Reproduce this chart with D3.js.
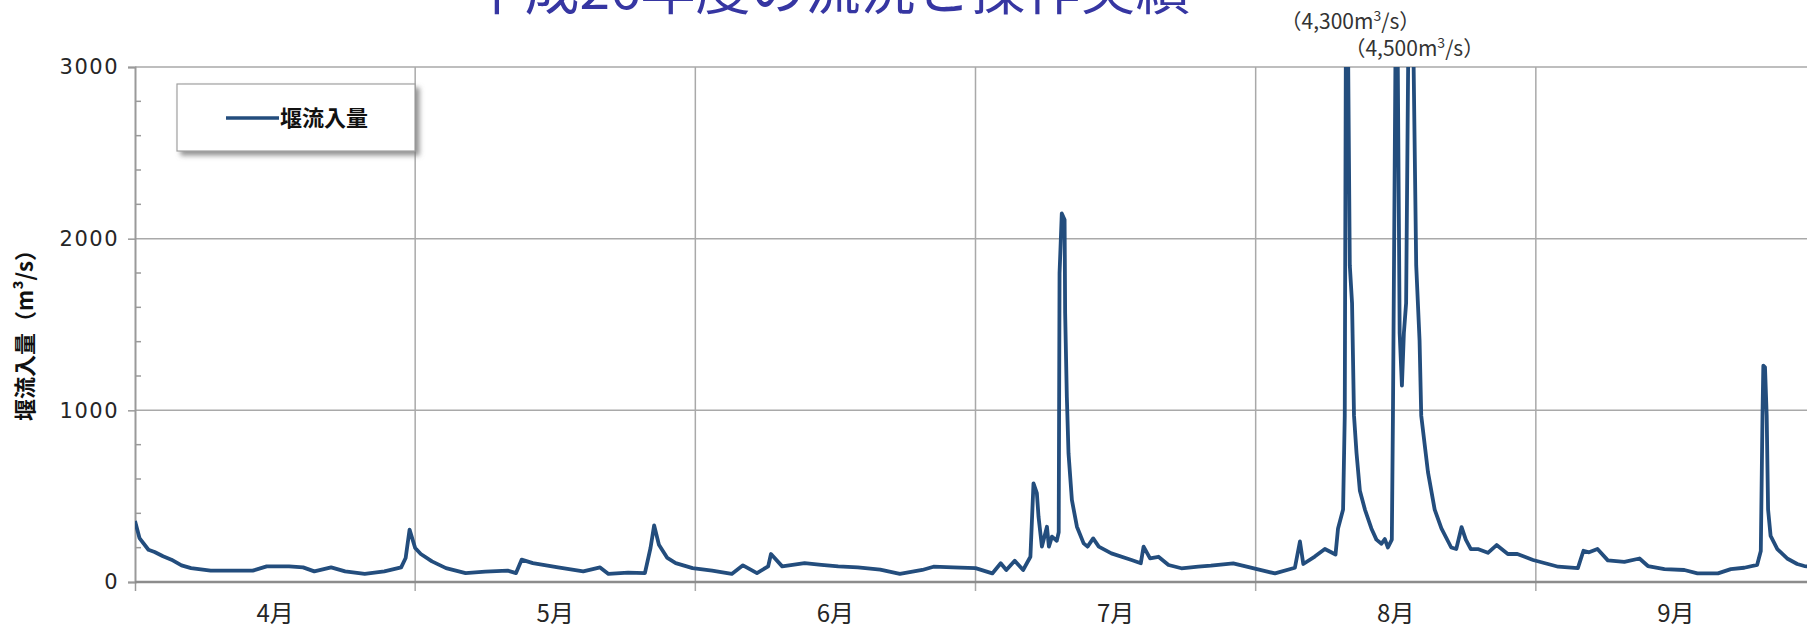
<!DOCTYPE html>
<html><head><meta charset="utf-8">
<script src="https://cdn.jsdelivr.net/npm/d3@7/dist/d3.min.js"></script>
<style>
html,body{margin:0;padding:0;background:#fff;overflow:hidden;}
svg{display:block;}
</style></head>
<body>
<script>
// ---- data ----
const titleText = "平成26年度の流況と操作実績";
const monthLabels = ["4月","5月","6月","7月","8月","9月"];
const yMajorTicks = [0, 1000, 2000, 3000];
const yMinorTicks = [200,400,600,800,1200,1400,1600,1800,2200,2400,2600,2800];
const seriesName = "堰流入量";
const yAxisTitle = "堰流入量（m³/s）";
// position in months since 1 April, and inflow (m3/s)
const monthPos = [
 0.000,0.016,0.048,0.070,0.100,0.130,0.166,0.200,0.270,0.330,0.420,0.470,0.550,0.600,0.640,0.700,0.750,0.820,0.890,0.950,0.966,0.980,1.000,1.020,1.060,1.110,1.180,1.250,1.330,1.360,1.380,1.420,1.510,1.600,1.660,1.690,1.760,1.820,1.840,1.853,1.870,1.900,1.930,1.990,2.060,2.130,2.170,2.220,2.260,2.270,2.310,2.390,2.450,2.510,2.580,2.660,2.730,2.810,2.850,2.920,3.000,3.060,3.090,3.110,3.140,3.170,3.196,3.207,3.219,3.225,3.237,3.255,3.262,3.273,3.290,3.297,3.300,3.308,3.318,3.320,3.326,3.332,3.344,3.362,3.386,3.400,3.420,3.440,3.485,3.557,3.590,3.600,3.623,3.653,3.689,3.735,3.795,3.840,3.920,3.990,4.069,4.140,4.158,4.170,4.211,4.247,4.285,4.294,4.312,4.318,4.324,4.336,4.344,4.351,4.360,4.372,4.390,4.413,4.431,4.449,4.461,4.472,4.486,4.490,4.503,4.514,4.522,4.529,4.537,4.552,4.573,4.585,4.591,4.615,4.639,4.663,4.698,4.716,4.735,4.750,4.768,4.793,4.829,4.860,4.900,4.934,4.990,5.080,5.150,5.170,5.190,5.220,5.257,5.316,5.370,5.400,5.459,5.530,5.577,5.650,5.696,5.744,5.790,5.803,5.809,5.812,5.818,5.824,5.829,5.838,5.862,5.897,5.933,5.958,6.000
];
const flow = [
 356,256,188,175,150,130,97,81,66,66,66,91,91,85,62,85,62,47,62,85,140,305,198,163,120,81,52,60,66,52,130,110,85,62,85,47,55,52,198,330,217,140,110,81,66,47,97,52,91,163,91,110,100,91,85,72,47,70,89,85,81,50,109,70,124,70,147,575,518,380,206,322,206,264,240,290,1798,2147,2110,1565,1079,750,478,322,225,206,254,206,167,128,109,206,138,147,99,80,89,95,109,81,50,83,236,105,148,192,160,312,422,969,4300,1844,1625,969,751,531,422,312,247,223,250,201,247,969,4000,1450,1144,1450,1625,4500,1844,1406,969,640,422,312,201,192,320,247,192,192,170,215,163,163,128,89,81,182,173,192,126,117,137,93,75,70,50,50,75,83,100,180,969,1260,1250,969,422,268,192,137,105,93,85
];
const peakMonthPos = [4.324, 4.552];
const peakLabels = ["4,300", "4,500"];

// ---- layout ----
const W = 1807, H = 628;
const x = d3.scaleLinear().domain([0, 6]).range([135, 1816]);
const y = d3.scaleLinear().domain([0, 3000]).range([582, 67]);
const lineColor = "#234d7d";
const gridColor = "#a9a9a9";
const textColor = "#262626";

const svg = d3.select("body").append("svg").attr("width", W).attr("height", H);

const defs = svg.append("defs");
defs.append("clipPath").attr("id","plotClip").append("rect")
  .attr("x", x(0)).attr("y", y(3000)).attr("width", x(6)-x(0)).attr("height", y(0)-y(3000)+2);
const f = defs.append("filter").attr("id","shadow").attr("x","-10%").attr("y","-10%").attr("width","130%").attr("height","140%");
f.append("feDropShadow").attr("dx",4).attr("dy",4).attr("stdDeviation",2.5).attr("flood-color","#7a7a7a").attr("flood-opacity",0.8);

// title (cut by the top edge, as in the source)
svg.append("text").attr("x", 830).attr("y", 9)
  .attr("text-anchor","middle")
  .attr("font-family","'Noto Sans CJK JP', sans-serif")
  .attr("font-size", 55).attr("fill","#3636a2")
  .text(titleText);

// horizontal gridlines
svg.append("g").selectAll("line").data(yMajorTicks.filter(d=>d>0)).join("line")
  .attr("x1", x(0)).attr("x2", W)
  .attr("y1", d=>y(d)).attr("y2", d=>y(d))
  .attr("stroke", gridColor).attr("stroke-width", 1.5);

// vertical month gridlines (+ ticks below axis)
svg.append("g").selectAll("line").data(d3.range(1, 6)).join("line")
  .attr("x1", d=>x(d)).attr("x2", d=>x(d))
  .attr("y1", y(3000)).attr("y2", y(0)+9)
  .attr("stroke", gridColor).attr("stroke-width", 1.5);

// y axis
const yAxis = d3.axisLeft(y).tickValues(yMajorTicks).tickSize(7).tickFormat(d3.format("d"));
const gy = svg.append("g").attr("transform", `translate(${x(0)},0)`).call(yAxis);
gy.select(".domain").attr("stroke","#9a9a9a").attr("stroke-width",2);
gy.selectAll(".tick line").attr("stroke","#9a9a9a").attr("stroke-width",1.5);
gy.selectAll(".tick text").attr("x",-16)
  .attr("font-family","'DejaVu Sans', sans-serif").attr("font-size",21)
  .attr("letter-spacing", 1.5)
  .attr("fill", textColor);
// minor ticks (inside)
svg.append("g").selectAll("line").data(yMinorTicks).join("line")
  .attr("x1", x(0)).attr("x2", x(0)+6)
  .attr("y1", d=>y(d)).attr("y2", d=>y(d))
  .attr("stroke","#9a9a9a").attr("stroke-width",1.5);

// x axis
const xAxis = d3.axisBottom(x).tickValues([0]).tickSize(9).tickFormat("");
const gx = svg.append("g").attr("transform", `translate(0,${y(0)})`).call(xAxis);
gx.select(".domain").remove();
gx.selectAll(".tick line").attr("stroke","#9a9a9a").attr("stroke-width",1.5);
svg.append("line").attr("x1", x(0)).attr("x2", W).attr("y1", y(0)).attr("y2", y(0))
  .attr("stroke","#8c8c8c").attr("stroke-width",2.5);

// month labels
svg.append("g").selectAll("text").data(monthLabels).join("text")
  .attr("x", (d,i)=>x(i+0.5)).attr("y", 622)
  .attr("text-anchor","middle")
  .attr("font-family","'Noto Sans CJK JP', sans-serif").attr("font-size",24)
  .attr("fill", textColor).text(d=>d);

// y axis title
svg.append("text")
  .attr("transform", `translate(33,${330}) rotate(-90)`)
  .attr("text-anchor","middle")
  .attr("font-family","'Noto Sans CJK JP', sans-serif").attr("font-size",22).attr("font-weight","bold")
  .attr("fill","#111").text(yAxisTitle);

// line
const data = monthPos.map((m,i)=>({m, v: flow[i]}));
const line = d3.line().x(d=>x(d.m)).y(d=>y(d.v));
svg.append("path").datum(data)
  .attr("clip-path","url(#plotClip)")
  .attr("d", line).attr("fill","none")
  .attr("stroke", lineColor).attr("stroke-width", 3.8)
  .attr("stroke-linejoin","round");

// peak annotations
const ann = svg.append("g").attr("font-family","'Noto Sans CJK JP', sans-serif").attr("fill","#333");
peakLabels.forEach((lab, i) => {
  const t = ann.append("text").attr("x", x(peakMonthPos[i]) + 4).attr("y", i === 0 ? 29 : 56)
    .attr("text-anchor","middle").attr("font-size", 21);
  t.append("tspan").text("（" + lab + "m");
  t.append("tspan").attr("dy", -8).attr("font-size", 14).text("3");
  t.append("tspan").attr("dy", 8).text("/s）");
});

// legend
const lg = svg.append("g");
lg.append("rect").attr("x",177).attr("y",84).attr("width",238).attr("height",67)
  .attr("fill","#fff").attr("stroke","#a0a0a0").attr("stroke-width",1.2)
  .attr("filter","url(#shadow)");
lg.append("line").attr("x1",226).attr("x2",279).attr("y1",118).attr("y2",118)
  .attr("stroke", lineColor).attr("stroke-width",3.5);
lg.append("text").attr("x",280).attr("y",126)
  .attr("font-family","'Noto Sans CJK JP', sans-serif").attr("font-size",22).attr("font-weight","bold")
  .attr("fill","#111").text(seriesName);
</script>
</body></html>
